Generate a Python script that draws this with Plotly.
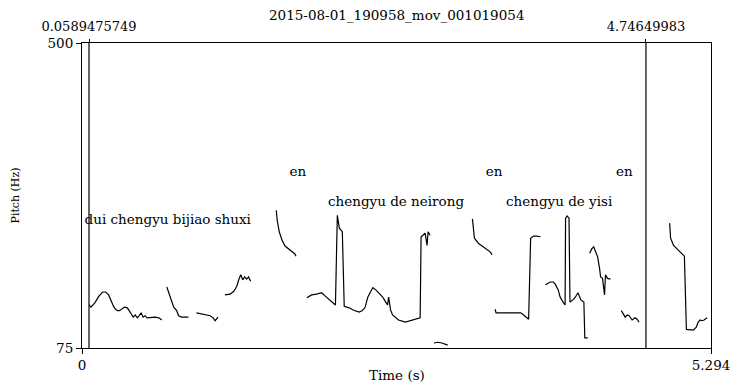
import plotly.graph_objects as go

TITLE = "2015-08-01_190958_mov_001019054"
X_MAX = 5.294
Y_MIN, Y_MAX = 75, 500
MARKS = [0.0589475749, 4.74649983]
MARK_TEXT = ["0.0589475749", "4.74649983"]

# pitch contour segments: (time s, pitch Hz)
seg1_t = [0.060, 0.075, 0.108, 0.141, 0.174, 0.199, 0.224, 0.249, 0.266, 0.282, 0.299, 0.315, 0.332, 0.357,
          0.382, 0.398, 0.415, 0.431, 0.448, 0.465, 0.481, 0.498, 0.514, 0.531, 0.548, 0.581, 0.614, 0.647, 0.672]
seg1_f = [135, 132, 138, 147, 153, 153, 149, 138, 133, 129, 127, 127, 129, 132,
          131, 127, 121, 118, 121, 117, 120, 124, 118, 120, 117, 118, 118, 117, 114]
seg2_t = [0.714, 0.739, 0.755, 0.772, 0.797, 0.813, 0.838, 0.871, 0.896]
seg2_f = [160, 149, 142, 132, 127, 120, 118, 118, 118]
seg3_t = [0.963, 1.021, 1.079, 1.104, 1.120, 1.145]
seg3_f = [124, 122, 120, 117, 113, 118]
seg4_t = [1.203, 1.245, 1.278, 1.303, 1.319, 1.336, 1.353, 1.369, 1.386, 1.402, 1.419]
seg4_f = [149, 150, 154, 161, 170, 177, 170, 174, 171, 174, 168]
seg5_t = [1.635, 1.643, 1.660, 1.684, 1.709, 1.743, 1.767, 1.792, 1.801]
seg5_f = [267, 253, 237, 225, 217, 213, 209, 206, 203]
seg6_t = [1.892, 1.933, 1.975, 2.016, 2.050, 2.083, 2.108, 2.133, 2.149, 2.166, 2.191, 2.207, 2.249, 2.282,
          2.332, 2.357, 2.381, 2.406, 2.431, 2.448, 2.473, 2.506, 2.531, 2.556, 2.572, 2.581, 2.589, 2.597,
          2.614, 2.639, 2.664, 2.722, 2.780, 2.846, 2.854, 2.871, 2.888, 2.904, 2.913, 2.929]
seg6_f = [145, 149, 150, 152, 147, 142, 138, 135, 260, 242, 237, 133, 131, 128,
          125, 127, 131, 146, 154, 159, 156, 150, 146, 139, 135, 146, 132, 128,
          121, 117, 114, 111, 114, 117, 230, 232, 235, 218, 237, 232]
seg7_t = [2.962, 2.996, 3.029, 3.054, 3.078]
seg7_f = [82, 83, 82, 81, 79]
seg8_t = [3.286, 3.294, 3.303, 3.336, 3.361, 3.386, 3.410, 3.435, 3.452]
seg8_f = [255, 242, 228, 221, 218, 216, 213, 209, 205]
seg9_t = [3.477, 3.485, 3.518, 3.551, 3.593, 3.634, 3.668, 3.693, 3.717, 3.734, 3.759, 3.776, 3.800, 3.825, 3.859]
seg9_f = [129, 124, 124, 124, 125, 125, 124, 124, 121, 118, 115, 228, 231, 231, 230]
seg10_t = [3.900, 3.925, 3.941, 3.966, 3.983, 4.008, 4.024, 4.049, 4.066, 4.070, 4.083, 4.099, 4.107, 4.132,
           4.149, 4.174, 4.199, 4.224, 4.232, 4.257]
seg10_f = [163, 166, 167, 167, 164, 156, 146, 139, 135, 256, 259, 256, 139, 142,
           145, 152, 142, 139, 89, 89]
seg11_t = [4.273, 4.290, 4.307, 4.323, 4.340, 4.356, 4.365, 4.381, 4.398, 4.406, 4.423, 4.448]
seg11_f = [207, 213, 216, 209, 202, 186, 174, 172, 149, 177, 172, 171]
seg12_t = [4.539, 4.555, 4.572, 4.589, 4.605, 4.630, 4.655, 4.672, 4.688]
seg12_f = [127, 122, 118, 121, 120, 114, 117, 115, 111]
seg13_t = [4.946, 4.954, 4.979, 5.004, 5.028, 5.053, 5.070, 5.087, 5.120, 5.145, 5.170, 5.186, 5.203, 5.219,
           5.236, 5.261]
seg13_f = [249, 228, 218, 214, 210, 206, 203, 101, 100, 100, 104, 111, 114, 113, 114, 117]

SEGMENTS = [(seg1_t, seg1_f), (seg2_t, seg2_f), (seg3_t, seg3_f), (seg4_t, seg4_f), (seg5_t, seg5_f),
            (seg6_t, seg6_f), (seg7_t, seg7_f), (seg8_t, seg8_f), (seg9_t, seg9_f), (seg10_t, seg10_f),
            (seg11_t, seg11_f), (seg12_t, seg12_f), (seg13_t, seg13_f)]

label_text = ["dui chengyu bijiao shuxi", "en", "chengyu de neirong", "en", "chengyu de yisi", "en"]
label_t = [0.722, 1.817, 2.643, 3.468, 4.016, 4.564]
label_f = [253, 319, 277, 319, 277, 319]

FONT = "DejaVu Serif"
FS = 13.5

xs, ys = [], []
for t, f in SEGMENTS:
    xs += t + [None]
    ys += f + [None]

fig = go.Figure()
fig.add_trace(go.Scatter(x=xs, y=ys, mode="lines", line=dict(color="black", width=1.2),
                         connectgaps=False, hoverinfo="skip", showlegend=False))
fig.add_trace(go.Scatter(x=label_t, y=label_f, mode="text", text=label_text,
                         textposition="middle center", textfont=dict(family=FONT, size=FS, color="black"),
                         showlegend=False, hoverinfo="skip"))
fig.add_trace(go.Scatter(x=MARKS, y=[None, None], xaxis="x2", mode="markers", showlegend=False,
                         hoverinfo="skip"))

for m in MARKS:
    fig.add_shape(type="line", xref="x", yref="paper", x0=m, x1=m, y0=0, y1=1,
                  line=dict(color="black", width=1.2))

axis_common = dict(showgrid=False, zeroline=False, showline=True, linecolor="black", linewidth=1,
                   ticks="outside", tickcolor="black", tickwidth=1,
                   tickfont=dict(family=FONT, size=FS, color="black"))

fig.update_layout(
    width=742, height=387,
    margin=dict(l=82, r=22, t=43, b=39),
    paper_bgcolor="white", plot_bgcolor="white",
    font=dict(family=FONT, size=FS, color="black"),
    xaxis=dict(range=[0, X_MAX], tickvals=[0, X_MAX], ticktext=["0", "5.294"], ticklen=5,
               mirror=True, **axis_common),
    xaxis2=dict(range=[0, X_MAX], overlaying="x", side="top", tickvals=MARKS, ticktext=MARK_TEXT,
                ticklen=3, ticklabelstandoff=3, showgrid=False, zeroline=False, showline=False,
                ticks="outside", tickcolor="black", tickwidth=1,
                tickfont=dict(family=FONT, size=13, color="black")),
    yaxis=dict(range=[Y_MIN, Y_MAX], tickvals=[Y_MIN, Y_MAX], ticktext=["75", "500"], ticklen=5,
               mirror=True, **axis_common),
    annotations=[
        dict(text=TITLE, xref="paper", yref="paper", x=0.5, y=1, yshift=28, showarrow=False,
             xanchor="center", yanchor="middle", font=dict(family=FONT, size=FS, color="black")),
        dict(text="Time (s)", xref="paper", yref="paper", x=0.5, y=0, yshift=-27, showarrow=False,
             xanchor="center", yanchor="middle", font=dict(family=FONT, size=FS, color="black")),
        dict(text="Pitch (Hz)", xref="paper", yref="paper", x=0, y=0.5, xshift=-67, showarrow=False,
             textangle=-90, xanchor="center", yanchor="middle",
             font=dict(family=FONT, size=11, color="black")),
    ],
)

fig.write_html("out.html")
